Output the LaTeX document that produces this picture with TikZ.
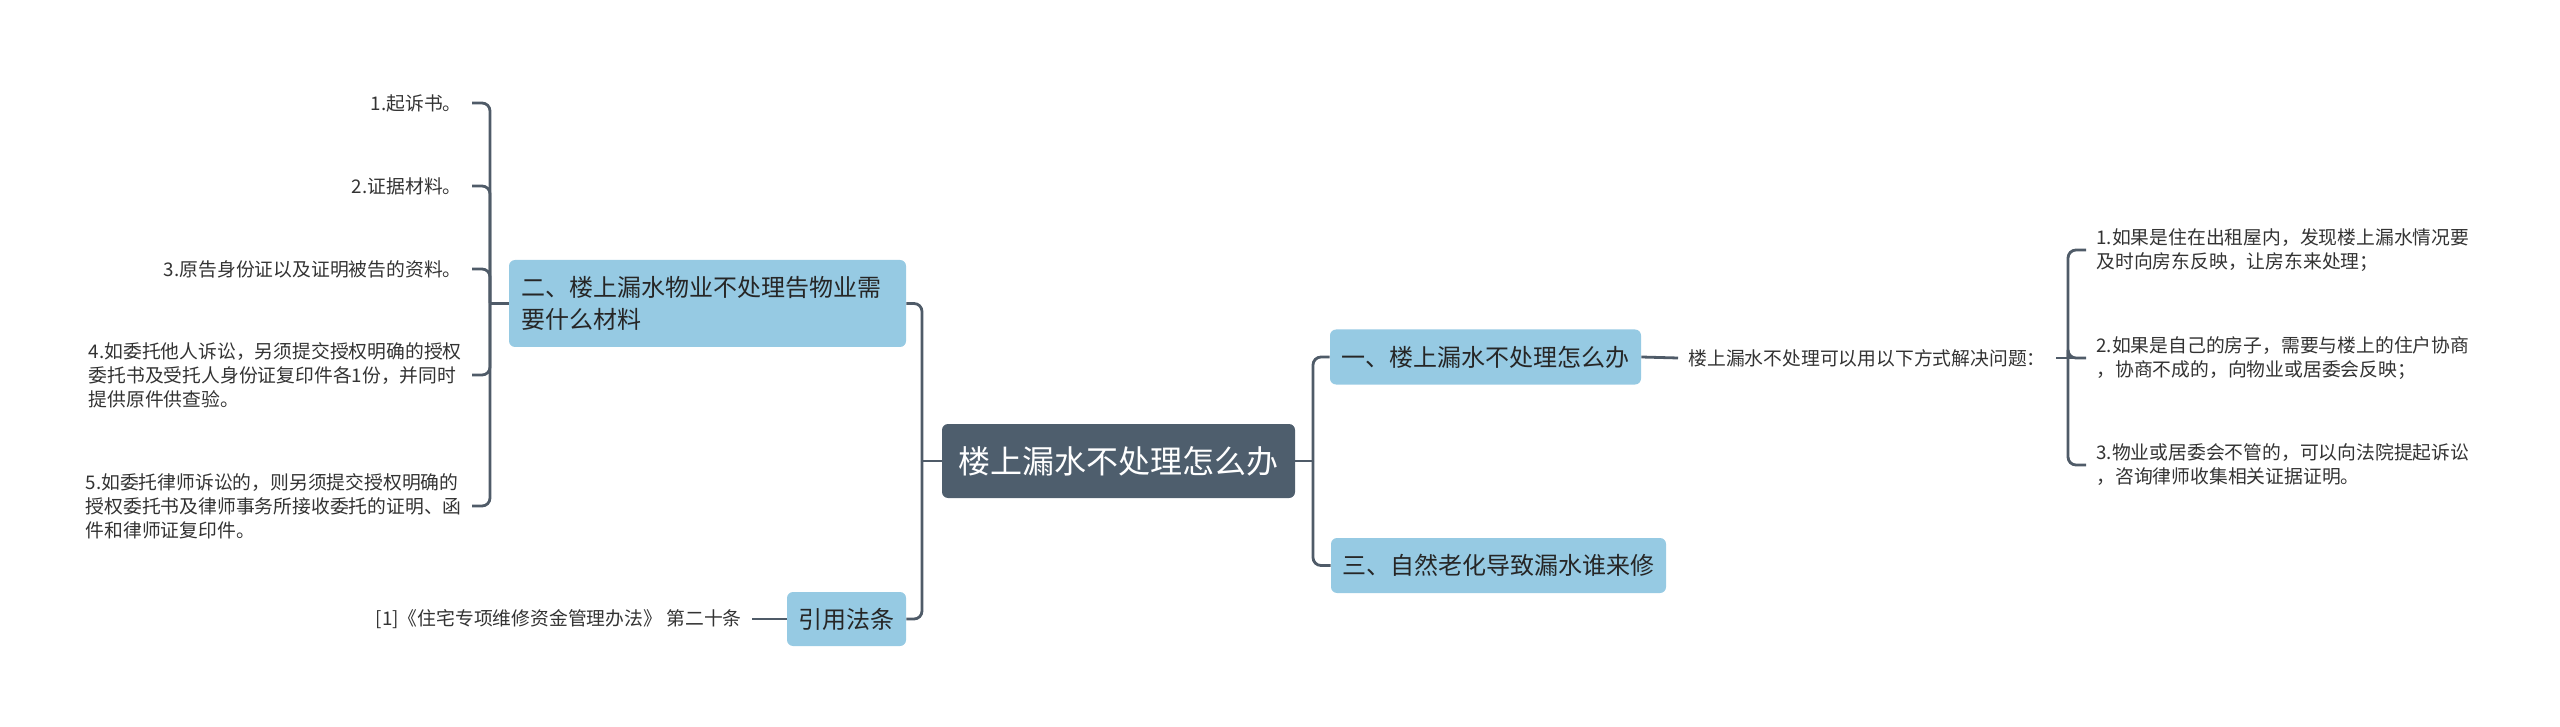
\documentclass[tikz,border=0pt]{standalone}
\usepackage{fontspec}
\setmainfont{Noto Sans CJK SC}
\usetikzlibrary{positioning}
\definecolor{rootfill}{RGB}{78,94,109}
\definecolor{topicfill}{RGB}{150,202,227}
\definecolor{linkcol}{RGB}{79,91,104}
\definecolor{leaftext}{RGB}{51,51,51}

\begin{document}
\begin{tikzpicture}[x=0.5pt, y=-0.5pt,
  root/.style={fill=rootfill, text=white, rounded corners=3pt, inner sep=0pt,
    font=\fontsize{16}{20}\selectfont},
  topic/.style={fill=topicfill, text=black!85, rounded corners=3pt, inner sep=0pt,
    font=\fontsize{12}{16}\selectfont},
  leaf/.style={text=leaftext, inner xsep=5pt, inner ysep=0pt, align=left,
    font=\fontsize{9.4}{12}\selectfont},
  link/.style={draw=linkcol, line width=1.4pt, rounded corners=4pt}]
  \useasboundingbox (0,0) rectangle (2560,727);

  % === Centre ===
  \node[root, minimum width=176.5pt, minimum height=37pt] (root) at (1118.5,461)
    {楼上漏水不处理怎么办};
  \coordinate (lj) at (922,461);
  \coordinate (rj) at (1313,461);

  % === Right side ===
  \node[topic, minimum width=155.5pt, minimum height=27.5pt] (b1) at (1485.5,357)
    {一、楼上漏水不处理怎么办};
  \node[topic, minimum width=167.5pt, minimum height=27.5pt] (b3) at (1498.5,565.5)
    {三、自然老化导致漏水谁来修};
  \node[leaf, anchor=west] (sol) at (1678,358) {楼上漏水不处理可以用以下方式解决问题：};
  \coordinate (rbr) at (2068,358);
  \node[leaf, anchor=west] (r1) at (2086,250)
    {1.如果是住在出租屋内，发现楼上漏水情况要\\及时向房东反映，让房东来处理；};
  \node[leaf, anchor=west] (r2) at (2086,358)
    {2.如果是自己的房子，需要与楼上的住户协商\\，协商不成的，向物业或居委会反映；};
  \node[leaf, anchor=west] (r3) at (2086,465)
    {3.物业或居委会不管的，可以向法院提起诉讼\\，咨询律师收集相关证据证明。};

  % === Left side ===
  \node[topic, align=left, text width=186.5pt, inner xsep=6pt, minimum height=43.5pt]
    (b2) at (707.5,303.5) {二、楼上漏水物业不处理告物业需\\要什么材料};
  \node[topic, minimum width=59.5pt, minimum height=27pt] (law) at (846.5,619) {引用法条};
  \node[leaf, anchor=east] (cite) at (752,619) {[1]《住宅专项维修资金管理办法》 第二十条};
  \coordinate (lbr) at (490,303.5);
  \node[leaf, anchor=east] (l1) at (472,103) {1.起诉书。};
  \node[leaf, anchor=east] (l2) at (472,186) {2.证据材料。};
  \node[leaf, anchor=east] (l3) at (472,269) {3.原告身份证以及证明被告的资料。};
  \node[leaf, anchor=east] (l4) at (472,375)
    {4.如委托他人诉讼，另须提交授权明确的授权\\委托书及受托人身份证复印件各1份，并同时\\提供原件供查验。};
  \node[leaf, anchor=east] (l5) at (472,506)
    {5.如委托律师诉讼的，则另须提交授权明确的\\授权委托书及律师事务所接收委托的证明、函\\件和律师证复印件。};

  % Connectors
  \draw[link] (root.west) -- (lj);
  \draw[link] (b2.east) -| (lj);
  \draw[link] (law.east) -| (lj);
  \draw[link] (root.east) -- (rj);
  \draw[link] (b1.west) -| (rj);
  \draw[link] (b3.west) -| (rj);
  \draw[link] (b1.east) -- (sol.west);
  \draw[link] (sol.east) -- (r2.west);
  \foreach \n in {r1,r2,r3} {
    \draw[link] (\n.west) -| (rbr);
  }
  \draw[link] (b2.west) -- (lbr);
  \foreach \n in {l1,l2,l3,l4,l5} {
    \draw[link] (\n.east) -| (lbr);
  }
  \draw[link] (cite.east) -- (law.west);
\end{tikzpicture}
\end{document}
